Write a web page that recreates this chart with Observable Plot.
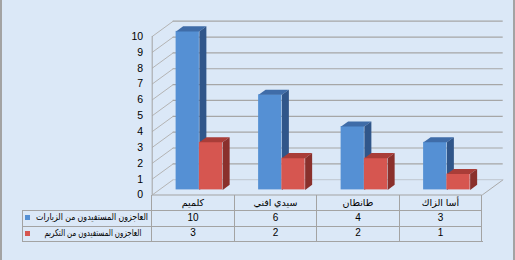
<!DOCTYPE html>
<html>
<head>
<meta charset="utf-8">
<script src="https://cdn.jsdelivr.net/npm/d3@7"></script>
<script src="https://cdn.jsdelivr.net/npm/@observablehq/plot@0.6"></script>
<style>
  html, body { margin: 0; padding: 0; background: #dbe8f7; }
  #chart { position: relative; width: 515px; height: 260px; background: #dbe8f7; overflow: hidden;
           font-family: "Liberation Sans", "DejaVu Sans", sans-serif; }
  #chart svg { position: absolute; left: 0; top: 0; }
  .ln { position: absolute; background: #a3a3a3; }
  .tx { position: absolute; font-size: 10px; color: #000; white-space: nowrap; line-height: 12px; }
</style>
</head>
<body>
<div id="chart"></div>
<script>
// ---- data ----
const categories = ["كلميم", "سيدي افني", "طانطان", "أسا الزاك"];
const seriesNames = ["العاجزون المستفيدون من الزيارات", "العاجزون المستفيدون من التكريم"];
const visits = [10, 6, 4, 3];
const honors = [3, 2, 2, 1];
const yTicks = [0, 1, 2, 3, 4, 5, 6, 7, 8, 9, 10];
const seriesColors = [
  {front: "#5590d4", top: "#3f6ca8", side: "#30568a"},
  {front: "#d65650", top: "#a93d38", side: "#8a302c"}
];

// ---- geometry ----
const X0 = 151.7, X1 = 481.7, Y0 = 194.5, Y10 = 36;
const DXp = 21, DYp = -15.3;                 // full depth offset in px
const ux = DXp * categories.length / (X1 - X0);  // depth in x units
const uy = -DYp * 10 / (Y0 - Y10);               // depth in y units
const barOff = 0.205, barW = 0.282;

const seriesValues = [visits, honors];
const bars = [];
seriesValues.forEach((vals, s) => {
  vals.forEach((v, i) => {
    const x1 = i + barOff + s * barW, x2 = x1 + barW;
    bars.push({s, i, v, x1, x2});
  });
});
const bdx = ux / 3, bdy = uy / 3;
function topPoly(b) {
  return [[b.x1, b.v], [b.x2, b.v], [b.x2 + bdx, b.v + bdy], [b.x1 + bdx, b.v + bdy]]
    .map(([x, y]) => ({id: `t${b.s}-${b.i}`, x, y}));
}
function sidePoly(b) {
  return [[b.x2, 0], [b.x2 + bdx, bdy], [b.x2 + bdx, b.v + bdy], [b.x2, b.v]]
    .map(([x, y]) => ({id: `s${b.s}-${b.i}`, x, y}));
}

const gridColor = "#a6a6a6";
const marks = [
  Plot.link(yTicks, {x1: 0, y1: d => d, x2: ux, y2: d => d + uy, stroke: "#b4b4b4", strokeWidth: 1}),
  Plot.ruleY(yTicks.filter(d => d > 0), {x1: ux, x2: categories.length + ux, y: d => d + uy, stroke: gridColor, strokeWidth: 1.2}),
  Plot.ruleY([0], {x1: ux, x2: categories.length + ux, y: d => d + uy, stroke: "#c4ccd6", strokeWidth: 1.2}),
  Plot.link([0], {x1: categories.length, y1: 0, x2: categories.length + ux, y2: uy, stroke: "#a9a9a9", strokeWidth: 1}),
  Plot.ruleX([0], {y1: 0, y2: 10, stroke: "#a3a3a3", strokeWidth: 1}),
  Plot.ruleY([0], {x1: 0, x2: categories.length, stroke: "#a3a3a3", strokeWidth: 1}),
  Plot.text(yTicks, {x: 0, y: d => d, text: d => String(d), dx: -9, textAnchor: "end", fontSize: 10.5, fill: "#000"})
];
[0, 1].forEach(s => {
  const bs = bars.filter(b => b.s === s);
  const c = seriesColors[s];
  marks.push(Plot.rect(bs, {x1: "x1", x2: "x2", y1: 0, y2: "v", dx: DXp / 3, dy: DYp / 3, fill: c.front}));
  marks.push(Plot.line(bs.flatMap(topPoly), {x: "x", y: "y", z: "id", fill: c.top, stroke: "none", dx: DXp / 3, dy: DYp / 3}));
  marks.push(Plot.line(bs.flatMap(sidePoly), {x: "x", y: "y", z: "id", fill: c.side, stroke: "none", dx: DXp / 3, dy: DYp / 3}));
});

const plot = Plot.plot({
  width: 515,
  height: 200,
  margin: 0,
  x: {type: "linear", domain: [0, categories.length], range: [X0, X1], axis: null},
  y: {type: "linear", domain: [0, 10], range: [Y0, Y10], axis: null},
  style: {background: "transparent", fontFamily: "'Liberation Sans','DejaVu Sans',sans-serif", overflow: "visible"},
  marks
});
const chart = document.getElementById("chart");
chart.appendChild(plot);

// ---- data table (below the plot) ----
const sx = plot.scale("x");
const xs = d3.range(categories.length + 1).map(k => sx.apply(k));
const tLeft = 21.7, rowTops = [194.5, 210, 225.7, 241];
function line(x, y, w, h) {
  const d = document.createElement("div");
  d.className = "ln";
  Object.assign(d.style, {left: x + "px", top: y + "px", width: w + "px", height: h + "px"});
  chart.appendChild(d);
}
function text(str, x, yc, align, rtl, size, fitWidth) {
  const d = document.createElement("div");
  d.className = "tx";
  d.textContent = str;
  if (size) d.style.fontSize = size + "px";
  if (rtl) d.dir = "rtl";
  d.style.top = (yc - 6) + "px";
  if (align === "center") { d.style.left = x + "px"; d.style.transform = "translateX(-50%)"; }
  else { d.style.right = (515 - x) + "px"; }
  chart.appendChild(d);
  if (fitWidth) {
    const w = d.getBoundingClientRect().width;
    d.style.transformOrigin = "right center";
    d.style.transform = `scaleX(${fitWidth / w})`;
  }
  return d;
}
line(tLeft, rowTops[1], xs[xs.length - 1] - tLeft, 1);
line(tLeft, rowTops[2], xs[xs.length - 1] - tLeft, 1);
line(tLeft, rowTops[3], xs[xs.length - 1] - tLeft + 1, 1);
line(tLeft, rowTops[1], 1, rowTops[3] - rowTops[1]);
xs.forEach(x => line(x - 0.5, rowTops[0], 1, rowTops[3] - rowTops[0]));
categories.forEach((c, i) => text(c, (xs[i] + xs[i + 1]) / 2, 202.5, "center", true, 9.5));
const labelRight = [147.7, 141], labelWidth = [112, 97];
seriesValues.forEach((vals, s) => {
  const yc = (rowTops[s + 1] + rowTops[s + 2]) / 2;
  vals.forEach((v, i) => text(String(v), (xs[i] + xs[i + 1]) / 2, yc, "center"));
  text(seriesNames[s], labelRight[s], yc - 0.5, "right", true, 9.5, labelWidth[s]);
  const sq = document.createElement("div");
  Object.assign(sq.style, {position: "absolute", left: "25px", top: (yc - 2.5) + "px", width: "5px", height: "5px", background: seriesColors[s].front});
  chart.appendChild(sq);
});
line(0, 0, 1.5, 260);
line(513, 0, 1.5, 260);
</script>
</body>
</html>
